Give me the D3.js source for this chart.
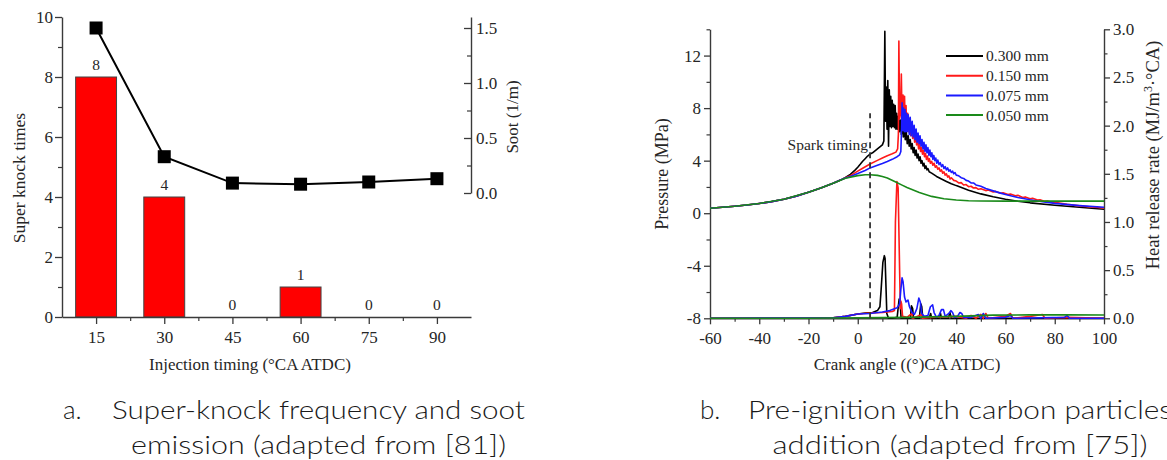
<!DOCTYPE html>
<html><head><meta charset="utf-8">
<script src="https://cdn.jsdelivr.net/npm/d3@7"></script>
<style>body{margin:0;background:#fff} svg{display:block}</style>
</head><body>
<svg id="c" width="1167" height="460"></svg>
<script>
// ---------- Panel a data ----------
const injectionTiming = [15, 30, 45, 60, 75, 90];
const superKnockTimes = [8, 4, 0, 1, 0, 0];
const sootValues = [1.5, 0.33, 0.09, 0.08, 0.1, 0.13];
const knockTicks = [0, 2, 4, 6, 8, 10];
const knockMinor = [1, 3, 5, 7, 9];
const sootTicks = [0, 0.5, 1.0, 1.5];
const sootMinor = [0.25, 0.75, 1.25];
const timingMinor = [22.5, 37.5, 52.5, 67.5, 82.5];

// ---------- Panel b data ----------
const crankTicks = [-60, -40, -20, 0, 20, 40, 60, 80, 100];
const crankMinor = [-50, -30, -10, 10, 30, 50, 70, 90];
const pressureTicks = [-8, -4, 0, 4, 8, 12];
const pressureMinor = [-6, -2, 2, 6, 10, 14];
const hrrTicks = [0, 0.5, 1.0, 1.5, 2.0, 2.5, 3.0];
const hrrMinor = [0.25, 0.75, 1.25, 1.75, 2.25, 2.75];
const seriesNames = ["0.300 mm", "0.150 mm", "0.075 mm", "0.050 mm"];
const seriesColors = ["#000000", "#ff1a1a", "#1a1aff", "#1a8a1a"];
const sparkTiming = 5;
const sparkTop = 7.6;

const compression = [[-60,0.38],[-55,0.45],[-50,0.53],[-45,0.62],[-40,0.74],[-35,0.88],[-30,1.06],[-25,1.3],[-20,1.6],[-15,1.92],[-10,2.28],[-7,2.52]];

const pressure300 = [[-5,2.72],[-3,2.95],[-1,3.3],[0,3.5],[1,3.72],[2,3.95],[3,4.15],[4,4.35],[5,4.5],[6,4.6],[7,4.75],[8,4.9],[9,5.05],[10,5.2],[10.6,5.5],
 [11.0,13.85],[11.3,7.0],[11.6,9.6],[11.9,6.4],[12.2,10.1],[12.5,5.1],[12.8,9.4],[13.1,6.6],[13.4,8.9],[13.7,6.5],[14.0,8.6],[14.3,6.6],[14.6,8.3],[14.9,6.5],[15.2,8.2],[15.5,6.4],[15.8,7.6],[16.1,6.4],[16.5,7.4],[16.9,6.2],[17.3,7.1],[17.7,6.0],[18.1,6.8],[18.5,5.8],[18.9,6.5],[19.3,5.6],[19.7,6.2],[20.1,5.3],[20.5,5.9],[20.9,5.1],[21.3,5.6],[21.7,4.9],[22.1,5.3],[22.5,4.6],[22.9,5.0],[23.3,4.4],[23.7,4.8],[24.1,4.2],[24.5,4.5],[24.9,4.0],[25.3,4.3],[25.7,3.8],[26.1,4.0],[26.5,3.6],[26.9,3.8],[27.3,3.4],[27.7,3.6],[28.1,3.3],[28.5,3.4],[29,3.15],[30,3.05],[32,2.8],[34,2.6],[36,2.42],[38,2.25],[40,2.1],[45,1.75],[50,1.47],[55,1.25],[60,1.06],[65,0.91],[70,0.79],[80,0.6],[90,0.45],[100,0.3]];

const pressure150 = [[-5,2.7],[-3,2.86],[0,3.2],[2,3.42],[5,3.75],[8,4.02],[10,4.2],[12,4.38],[14,4.52],[15.5,4.65],[16.2,4.9],[16.5,6.0],
 [16.7,13.1],[17.0,7.2],[17.4,7.6],[17.7,10.6],[18.0,7.0],[18.4,9.0],[18.7,6.8],[19.0,8.9],[19.3,6.6],[19.6,8.2],[19.9,6.4],[20.3,7.6],[20.7,6.2],[21.1,7.2],[21.5,5.9],[21.9,6.8],[22.3,5.7],[22.7,6.4],[23.1,5.4],[23.5,6.0],[23.9,5.2],[24.3,5.6],[24.7,4.9],[25.1,5.3],[25.5,4.7],[25.9,5.0],[26.3,4.5],[26.7,4.8],[27.1,4.3],[27.5,4.55],[27.9,4.1],[28.3,4.35],[28.7,3.95],[29.1,4.15],[29.5,3.8],[30,3.95],[30.5,3.65],[31,3.8],[31.5,3.5],[32,3.6],[32.5,3.35],[33,3.45],[33.5,3.2],[34,3.3],[34.5,3.05],[35,3.15],[35.5,2.9],[36,3.0],[36.5,2.75],[37,2.85],[37.5,2.6],[38,2.7],[39,2.5],[40,2.45],[41,2.3],[42,2.33],[43,2.15],[44,2.18],[45,2.02],[46,2.05],[47,1.92],[48,1.95],[49,1.82],[50,1.86],[52,1.72],[53,1.76],[55,1.62],[56,1.66],[58,1.52],[59,1.56],[61,1.42],[62,1.46],[64,1.32],[65,1.36],[67,1.2],[68,1.24],[70,1.1],[71,1.13],[73,1.0],[74,1.03],[76,0.9],[77,0.93],[79,0.82],[80,0.84],[85,0.67],[90,0.56],[95,0.47],[100,0.4]];

const pressure075 = [[-5,2.68],[-3,2.8],[0,3.02],[3,3.25],[5,3.45],[8,3.65],[10,3.78],[12,3.93],[14,4.1],[16,4.3],[17,4.45],[17.5,4.7],[17.8,6.5],
 [18.0,8.4],[18.3,6.3],[18.6,8.0],[18.9,6.2],[19.2,7.9],[19.5,6.2],[19.8,7.6],[20.1,6.2],[20.5,7.5],[20.9,6.0],[21.3,7.3],[21.7,5.9],[22.1,7.0],[22.5,5.8],[22.9,6.7],[23.3,5.6],[23.7,6.4],[24.1,5.4],[24.5,6.1],[24.9,5.3],[25.3,5.9],[25.7,5.1],[26.1,5.6],[26.5,4.9],[26.9,5.4],[27.3,4.7],[27.7,5.2],[28.1,4.6],[28.5,5.0],[28.9,4.4],[29.3,4.8],[29.7,4.3],[30.1,4.6],[30.5,4.1],[30.9,4.4],[31.3,4.0],[31.7,4.2],[32.1,3.8],[32.5,4.05],[33,3.7],[33.5,3.85],[34,3.55],[34.5,3.7],[35,3.4],[35.5,3.55],[36,3.3],[36.5,3.45],[37,3.2],[37.5,3.3],[38,3.1],[38.5,3.2],[39,3.0],[39.5,3.1],[40,2.9],[41,2.85],[42,2.7],[43,2.65],[44,2.5],[45,2.45],[46,2.3],[47,2.3],[48,2.15],[50,2.05],[52,1.88],[55,1.7],[58,1.53],[60,1.42],[65,1.2],[70,1.02],[75,0.87],[80,0.75],[90,0.58],[100,0.45]];

const pressure050 = [[-60,0.38],[-50,0.53],[-40,0.74],[-30,1.06],[-20,1.6],[-15,1.92],[-10,2.28],[-5,2.66],[0,2.86],[3,2.93],[5,2.93],[8,2.88],[10,2.8],[12,2.68],[15,2.42],[18,2.14],[20,1.96],[25,1.57],[30,1.28],[35,1.1],[40,1.0],[45,0.95],[50,0.93],[60,0.92],[70,0.92],[80,0.92],[90,0.92],[100,0.92]];

const hrr300 = [[-60,0],[-20,0],[-10,0.005],[-5,0.02],[0,0.045],[3,0.055],[6,0.06],[8,0.08],[9,0.12],[9.5,0.3],[10.2,0.58],[10.8,0.65],[11.1,0.62],[11.5,0.3],[11.8,0.05],[12.5,0.0],[14,0.0],[16,0.01],[16.8,0.2],[17.2,0.18],[17.6,0.0],[19,0.0],[21.4,0.0],[21.8,0.13],[22.3,0.1],[22.6,0.0],[25,0.0],[25.6,0.15],[26,0.12],[26.4,0.0],[29,0.0],[29.6,0.05],[30,0.0],[33,0.0],[33.6,0.05],[34,0.0],[36.8,0.0],[37.4,0.06],[38,0.0],[100,0.0]];

const hrr150 = [[-60,0],[-10,0.005],[-5,0.02],[0,0.045],[5,0.055],[10,0.06],[14,0.07],[14.9,0.08],[15.3,1.0],[15.9,1.42],[16.4,1.35],[17.0,0.5],[17.3,0.1],[17.5,0.18],[17.8,0.15],[18.2,0.02],[20,0.01],[22,0.05],[22.4,0.0],[26,0.04],[26.3,0.0],[30,0.01],[40,0.02],[44,0.0],[46,0.03],[48,0.0],[50,0.04],[51,0.0],[52,0.05],[53,0.0],[60,0.02],[62,0.05],[63,0.0],[70,0.02],[75,0.04],[76,0.0],[85,0.01],[100,0.0]];

const hrr075 = [[-60,0],[-10,0.005],[-5,0.02],[0,0.045],[5,0.05],[10,0.065],[13,0.08],[16,0.11],[17,0.15],[17.5,0.3],[18,0.42],[18.4,0.38],[19,0.22],[19.6,0.17],[20.4,0.19],[21,0.12],[22,0.06],[23,0.04],[24,0.1],[24.8,0.21],[25.4,0.17],[26,0.05],[27,0.02],[28.5,0.03],[29.5,0.12],[30.4,0.14],[31,0.06],[32,0.01],[33,0.03],[34,0.09],[34.8,0.09],[35.5,0.02],[37,0.05],[37.8,0.08],[38.5,0.06],[39.3,0.01],[40.5,0.02],[41.5,0.06],[42.2,0.05],[43,0.01],[46,0.01],[49,0.04],[50,0.0],[51,0.05],[52,0.0],[60,0.01],[62,0.03],[63,0.0],[84,0.01],[85,0.03],[86,0.0],[100,0.0]];

const hrr050 = [[-60,0],[-20,0],[0,0.005],[20,0.01],[40,0.02],[55,0.033],[70,0.036],[85,0.036],[100,0.035]];

const captionA = ["a.", "Super-knock frequency and soot", "emission (adapted from [81])"];
const captionB = ["b.", "Pre-ignition with carbon particles", "addition (adapted from [75])"];

// ---------- drawing ----------
const svg = d3.select("#c");
const serif = "'Liberation Serif','Times New Roman',serif";
const axisColor = "#3a3a3a";
const textColor = "#262626";
const tickFs = 17, titleFs = 17;

function styleAxis(g, fs) {
  g.select(".domain").attr("stroke", axisColor).attr("stroke-width", 1.4);
  g.selectAll(".tick line").attr("stroke", axisColor).attr("stroke-width", 1.3);
  g.selectAll(".tick text").attr("fill", textColor).attr("font-family", serif).attr("font-size", fs || tickFs);
}
function minorAxis(g, axisFn, vals, size) {
  const ax = axisFn.tickValues(vals).tickSize(size).tickSizeOuter(0).tickFormat("");
  g.call(ax);
  g.select(".domain").remove();
  g.selectAll(".tick line").attr("stroke", axisColor).attr("stroke-width", 1.2);
}

// ===== Panel a =====
const ax0 = 62, ax1 = 471, ay0 = 317, ay1 = 17;
const xA = d3.scaleLinear().domain([7.5, 97.5]).range([ax0, ax1]);
const yK = d3.scaleLinear().domain([0, 10]).range([ay0, ay1]);
const yS = d3.scaleLinear().domain([0, 1.6]).range([193, 17]);
const barW = xA(9) - xA(0);

const gA = svg.append("g");
gA.selectAll("rect.bar").data(injectionTiming.map((t, i) => ({t, v: superKnockTimes[i]})).filter(d => d.v > 0))
  .enter().append("rect")
  .attr("x", d => xA(d.t) - barW / 2).attr("width", barW)
  .attr("y", d => yK(d.v)).attr("height", d => yK(0) - yK(d.v))
  .attr("fill", "#ff0000").attr("stroke", "#444").attr("stroke-width", 1);
gA.selectAll("text.blab").data(injectionTiming.map((t, i) => ({t, v: superKnockTimes[i]})))
  .enter().append("text")
  .attr("x", d => xA(d.t)).attr("y", d => yK(d.v) - 7)
  .attr("text-anchor", "middle").attr("font-family", serif).attr("font-size", 15.5).attr("fill", textColor)
  .text(d => d.v);

gA.append("g").attr("transform", `translate(${ax0},0)`)
  .call(d3.axisLeft(yK).tickValues(knockTicks).tickSize(7).tickSizeOuter(0).tickPadding(2))
  .call(g => styleAxis(g));
gA.append("g").attr("transform", `translate(${ax0},0)`).call(g => minorAxis(g, d3.axisLeft(yK), knockMinor, 4));

gA.append("g").attr("transform", `translate(0,${ay0})`)
  .call(d3.axisBottom(xA).tickValues(injectionTiming).tickSize(7).tickSizeOuter(0).tickPadding(7))
  .call(g => styleAxis(g));
gA.append("g").attr("transform", `translate(0,${ay0})`).call(g => minorAxis(g, d3.axisBottom(xA), timingMinor, 4));

gA.append("g").attr("transform", `translate(${ax1},0)`)
  .call(d3.axisRight(yS).tickValues(sootTicks).tickSize(-7).tickSizeOuter(0).tickPadding(5).tickFormat(d3.format(".1f")))
  .call(g => styleAxis(g));
gA.append("g").attr("transform", `translate(${ax1},0)`).call(g => minorAxis(g, d3.axisRight(yS), sootMinor, -4));

const sootPts = injectionTiming.map((t, i) => [t, sootValues[i]]);
gA.append("path").datum(sootPts)
  .attr("d", d3.line().x(d => xA(d[0])).y(d => yS(d[1])))
  .attr("fill", "none").attr("stroke", "#000").attr("stroke-width", 2);
gA.selectAll("rect.sq").data(sootPts).enter().append("rect")
  .attr("x", d => xA(d[0]) - 6.5).attr("y", d => yS(d[1]) - 6.5)
  .attr("width", 13).attr("height", 13).attr("fill", "#000");

gA.append("text").attr("transform", "translate(19,178) rotate(-90)").attr("text-anchor", "middle")
  .attr("dy", "0.35em").attr("font-family", serif).attr("font-size", 17.5).attr("fill", textColor).text("Super knock times");
gA.append("text").attr("transform", "translate(512,117) rotate(-90)").attr("text-anchor", "middle")
  .attr("dy", "0.35em").attr("font-family", serif).attr("font-size", titleFs).attr("fill", textColor).text("Soot (1/m)");
gA.append("text").attr("x", 250).attr("y", 370).attr("text-anchor", "middle")
  .attr("font-family", serif).attr("font-size", titleFs).attr("fill", textColor).text("Injection timing (°CA ATDC)");

// ===== Panel b =====
const bx0 = 710, bx1 = 1104, by0 = 318.3, by1 = 29.3;
const xB = d3.scaleLinear().domain([-60, 100]).range([bx0, bx1]);
const yP = d3.scaleLinear().domain([-8, 14]).range([by0, by1]);
const yH = d3.scaleLinear().domain([0, 3]).range([by0, by1]);
const gB = svg.append("g");

gB.append("g").attr("transform", `translate(${bx0},0)`)
  .call(d3.axisLeft(yP).tickValues(pressureTicks).tickSize(6).tickSizeOuter(0).tickPadding(3).tickFormat(d => String(d)))
  .call(g => styleAxis(g));
gB.append("g").attr("transform", `translate(${bx0},0)`).call(g => minorAxis(g, d3.axisLeft(yP), pressureMinor, 3.5));
gB.append("g").attr("transform", `translate(${bx1},0)`)
  .call(d3.axisRight(yH).tickValues(hrrTicks).tickSize(6).tickSizeOuter(0).tickPadding(3).tickFormat(d3.format(".1f")))
  .call(g => styleAxis(g));
gB.append("g").attr("transform", `translate(${bx1},0)`).call(g => minorAxis(g, d3.axisRight(yH), hrrMinor, 3.5));
gB.append("g").attr("transform", `translate(0,${by0})`)
  .call(d3.axisBottom(xB).tickValues(crankTicks).tickSize(6).tickSizeOuter(0).tickPadding(8).tickFormat(d => String(d)))
  .call(g => styleAxis(g));
gB.append("g").attr("transform", `translate(0,${by0})`).call(g => minorAxis(g, d3.axisBottom(xB), crankMinor, 3.5));

const lineP = d3.line().x(d => xB(d[0])).y(d => yP(d[1]));
const lineH = d3.line().x(d => xB(d[0])).y(d => yH(d[1]));

const pressureSeries = [compression.concat(pressure300), compression.concat(pressure150), compression.concat(pressure075), pressure050];
const hrrSeries = [hrr300, hrr150, hrr075, hrr050];

const plot = gB.append("g");
hrrSeries.forEach((s, i) => {
  plot.append("path").datum(s).attr("d", lineH).attr("fill", "none")
    .attr("stroke", seriesColors[i]).attr("stroke-width", 1.6).attr("stroke-linejoin", "round");
});
pressureSeries.forEach((s, i) => {
  plot.append("path").datum(s).attr("d", lineP).attr("fill", "none")
    .attr("stroke", seriesColors[i]).attr("stroke-width", 1.6).attr("stroke-linejoin", "round");
});

gB.append("line").attr("x1", xB(sparkTiming)).attr("x2", xB(sparkTiming))
  .attr("y1", yH(0)).attr("y2", yP(sparkTop))
  .attr("stroke", "#333").attr("stroke-width", 1.8).attr("stroke-dasharray", "6,4");
gB.append("text").attr("x", xB(sparkTiming) - 2).attr("y", 150).attr("text-anchor", "end")
  .attr("font-family", serif).attr("font-size", 15.5).attr("fill", textColor).text("Spark timing");

const leg = gB.append("g");
seriesNames.forEach((n, i) => {
  const yy = 56 + i * 19.7;
  leg.append("line").attr("x1", 946).attr("x2", 983).attr("y1", yy).attr("y2", yy)
    .attr("stroke", seriesColors[i]).attr("stroke-width", 2);
  leg.append("text").attr("x", 986).attr("y", yy).attr("dy", "0.35em")
    .attr("font-family", serif).attr("font-size", 15.5).attr("fill", textColor).text(n);
});

gB.append("text").attr("transform", "translate(662,174) rotate(-90)").attr("text-anchor", "middle")
  .attr("dy", "0.35em").attr("font-family", serif).attr("font-size", 18).attr("fill", textColor).text("Pressure (MPa)");
const hr = gB.append("text").attr("transform", "translate(1153,155) rotate(-90)").attr("text-anchor", "middle")
  .attr("dy", "0.35em").attr("font-family", serif).attr("font-size", 18.5).attr("fill", textColor);
hr.append("tspan").text("Heat release rate (MJ/m");
hr.append("tspan").attr("baseline-shift", "super").attr("font-size", 12).text("3");
hr.append("tspan").text("·°CA)");
gB.append("text").attr("x", 907).attr("y", 370).attr("text-anchor", "middle")
  .attr("font-family", serif).attr("font-size", titleFs).attr("fill", textColor).text("Crank angle ((°)CA ATDC)");

// ===== captions =====
const capFont = "Lato,'Open Sans',sans-serif";
const capSize = 26;
function caption(cap, xLabel, xText, len1, len2, y1, y2) {
  const g = svg.append("g").attr("font-family", capFont).attr("font-weight", 300).attr("font-size", capSize).attr("fill", "#1a1a1a");
  g.append("text").attr("x", xLabel).attr("y", y1).text(cap[0]);
  g.append("text").attr("x", xText).attr("y", y1).attr("textLength", len1).attr("lengthAdjust", "spacingAndGlyphs").text(cap[1]);
  g.append("text").attr("x", xText + len1 / 2 - len2 / 2).attr("y", y2).attr("textLength", len2).attr("lengthAdjust", "spacingAndGlyphs").text(cap[2]);
}
caption(captionA, 63, 112, 413, 375, 419, 454);
caption(captionB, 700, 748, 424, 375, 419, 454);
</script>
</body></html>
